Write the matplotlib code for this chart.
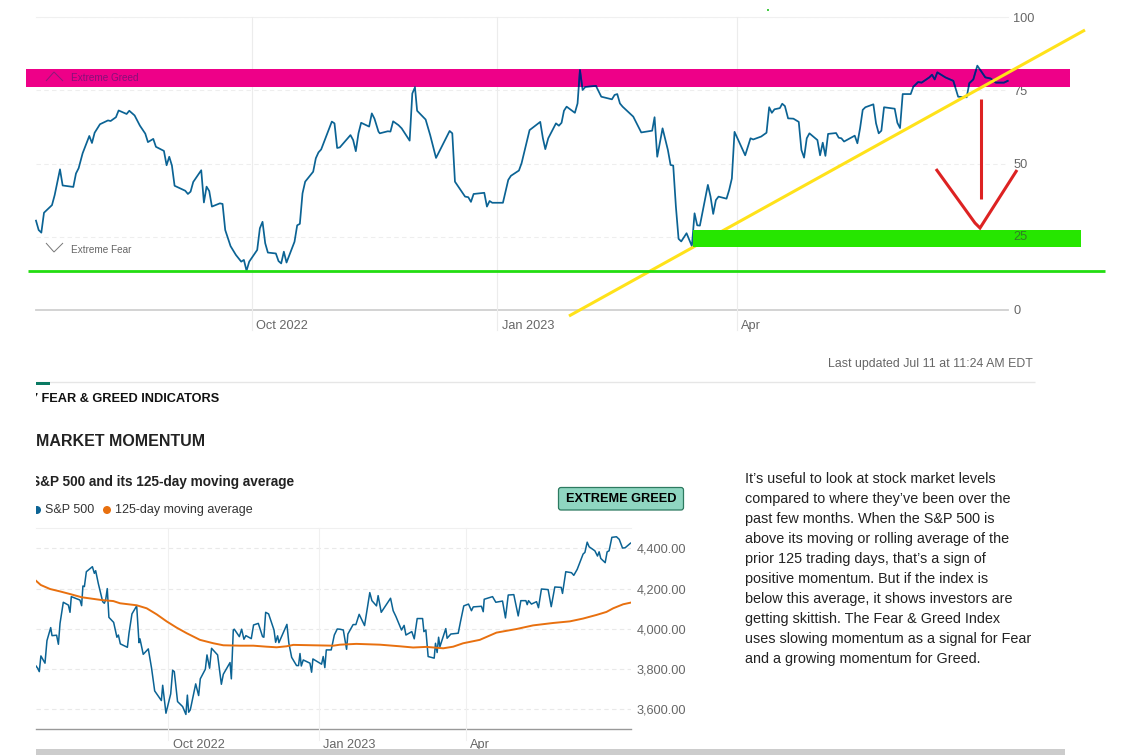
import matplotlib
matplotlib.use("Agg")
import matplotlib.pyplot as plt
from matplotlib.lines import Line2D
from matplotlib.patches import Rectangle, FancyBboxPatch, Circle
from matplotlib.transforms import Affine2D

plt.rcParams['font.family'] = ['Liberation Sans', 'DejaVu Sans']

# x values are days since Jul 12 2022
month_days = [81, 173, 263]
month_labels = ['Oct 2022', 'Jan 2023', 'Apr']

fg_days = [0, 1, 2, 3, 6, 7, 9, 10, 14, 15, 16, 17.5, 20, 21, 22, 24, 27, 28, 30, 31, 34, 35, 37, 39, 41, 42, 44, 45, 48, 49,
           50, 51, 52, 56, 57, 58, 59, 62, 63, 64, 65, 66, 69, 70, 71, 73, 75, 77, 78, 79, 80, 83, 84, 85, 86, 87, 90, 91, 92, 93,
           94, 97, 98, 99, 100, 101, 104, 105, 106, 107, 111, 112, 113, 114, 118, 119, 120, 121, 122, 125, 126, 127, 128.5, 129, 132, 133, 134, 136, 137.2, 140.2,
           141.2, 142.2, 143, 146.2, 147.9, 150.1, 155.2, 156.2, 157.2, 161, 162.2, 163.2, 164.2, 168.2, 169.2, 170.2, 171.2, 175.2, 177.2, 178.2, 181.2, 182.2, 183.7, 185.2, 189.2, 190.2, 191.1, 192.2, 195.1, 196.2,
           197.2, 198.1, 199.1, 202.2, 203.2, 204.1, 205.1, 206.1, 210.1, 212.1, 216.1, 217.1, 218.1, 219.1, 220.1, 224.1, 227.1, 231.2, 232.1, 233.1, 235.1, 237.1, 238.1, 239.1, 240.1, 241.1, 242.1, 244.1, 246.1, 247.1,
           248.1, 249.1, 252.1, 253.1, 254.1, 255.1, 256.1, 259.1, 260.1, 261.1, 262.1, 266.1, 268.1, 269.1, 272.1, 274.1, 275.1, 276.1, 277.1, 279.1, 280, 281, 282.2, 284.2, 286.2, 287.2, 288.2, 289.2, 290.2, 293.2,
           294.2, 295.2, 296.2, 297.2, 300.2, 301.2, 302.2, 303.2, 307.2, 308.2, 309.2, 310.2, 311.2, 314.2, 315.2, 316.2, 317.2, 318.2, 322.2, 323.2, 324.2, 325.2, 328.2, 329.2, 331, 332.3, 335.2, 336.2, 337.2, 338.2,
           341.2, 344.2, 346, 349.2, 350.2, 351.7, 353.2, 356.2, 358.2, 360.2, 363.2, 364.6]
fg_values = [30.5, 27.3, 26.4, 33.2, 35.8, 39.2, 48, 42.5, 42, 46.6, 48.4, 53.5, 59.4, 57, 60.5, 63.4, 64.7, 64.5, 65.8, 68.1, 66.9, 68, 66.4, 62.9, 60.2, 57.3, 58.4, 55.7, 54.3, 49.4,
             52.3, 49.3, 42.4, 40.7, 39.6, 40.4, 43.7, 47.7, 36.7, 42.1, 40.6, 35.3, 36.4, 36.2, 27.3, 21.8, 18.8, 16.5, 17.1, 13.4, 16.5, 20.5, 27.9, 30.1, 22.8, 19.6, 19.3, 16.7, 15.9, 19.9,
             16.2, 23.3, 28.9, 29.4, 39.8, 43.8, 47.2, 51.8, 53.8, 54.8, 64.3, 63.7, 55.3, 55.5, 59.7, 58, 54.2, 60.3, 63.9, 62.6, 67.1, 65.3, 60.9, 60.3, 61, 60.9, 64.4, 63.1, 62, 57.8,
             73.9, 76, 68, 65, 59.7, 51.9, 61.1, 60.3, 43.8, 38.7, 38.5, 36.9, 39.6, 40, 35.3, 37.2, 36.6, 36.6, 44.4, 45.8, 47.6, 50.1, 55.7, 61.4, 64.2, 58.6, 54.9, 58.6, 63.7, 62.9,
             63.9, 68, 69.4, 67.3, 70.5, 81.9, 75.1, 76.1, 76.5, 72.8, 71.9, 73.4, 73.7, 70.5, 69.4, 66, 60.6, 61.2, 65.8, 52.3, 62, 54.6, 49.5, 49.3, 35.3, 24.3, 23.4, 26.2, 21.8, 33,
             28.9, 28.8, 42.7, 38.7, 32.8, 37.5, 38.7, 38, 41, 44.9, 60.8, 52.8, 58.6, 58.2, 59.2, 60.5, 69.2, 67.3, 68.5, 68.9, 70.4, 69.6, 65.4, 65.3, 64.2, 54.6, 52, 58.6, 60.3, 58,
             52.8, 57.1, 52.6, 60.1, 60.4, 58.8, 58.6, 57.5, 59.5, 56.9, 62, 68.3, 69.2, 70.2, 63.7, 60.3, 61.2, 69.2, 68.7, 63.9, 62.1, 73.7, 73.7, 76.2, 77.8, 77.6, 79.4, 80.3, 78.7, 81.1,
             79.4, 78.2, 72.8, 72.6, 77.4, 78.7, 83.4, 79.4, 79, 77.6, 77.6, 78.2]
fg_ticks = [0, 25, 50, 75, 100]

sp_days = [0, 1, 2, 3, 5.5, 6.7, 9, 9.8, 12.6, 13.7, 14.7, 16.7, 19.8, 20.8, 21.6, 26.9, 27.9, 28.7, 29.6, 30.8, 34.5, 35.7, 36.5, 38.1, 40.8, 41.8, 42.6, 43.6, 44.6, 47.5,
           49.5, 50.4, 51.6, 55.9, 56.9, 58.7, 61.6, 63, 63.6, 65.6, 68.7, 70.7, 72.6, 76.7, 77.5, 79.5, 82.4, 83.6, 84.6, 86.6, 89.7, 91.7, 92.6, 93.4, 94.4, 97.7, 99.5, 100.5, 103.6, 104.6,
           106.2, 107.4, 111.1, 113.4, 114.6, 118.7, 119.5, 120.7, 121.3, 124.4, 125.8, 127.2, 128.4, 131.7, 133.1, 136, 138.6, 139.4, 140.5, 142.3, 145.6, 146.6, 147.8, 148.6, 153.5, 154.7, 156.4, 159.4, 160.6, 161.5,
           162.3, 163.5, 167.6, 168.6, 169.4, 174.7, 175.7, 176.7, 177.6, 180.6, 182.5, 184.3, 185.9, 188, 190, 190.8, 194, 195.7, 197.7, 201, 204.2, 205.5, 208.3, 209.3, 211.2, 216.9, 218.5, 220.2, 223.6, 225.2,
           226.3, 229.9, 231.4, 233.2, 236.5, 237.3, 238.5, 239.9, 243.6, 244.4, 245.4, 246.3, 247.1, 250.7, 251.5, 253.8, 258.3, 259.7, 261.7, 264.6, 266.4, 267.5, 272.5, 273.6, 274.2, 279.3, 281.3, 285.4, 287.2, 288.9,
           292.3, 295, 296.6, 299.7, 300.5, 301.3, 303.1, 306.2, 307.4, 309.2, 313.3, 315.2, 317.4, 321.3, 322.1, 324.1, 327.6, 329, 331.1, 334.7, 335.8, 337.2, 338.4, 341.9, 343.5, 344.5, 345.5, 348.2, 349.4, 350.6,
           352.3, 355.1, 356.8, 358.8, 360.4, 363.7]
sp_values = [3815, 3804, 3787, 3865, 3829, 3941, 4006, 3966, 3968, 3923, 4027, 4132, 4118, 4082, 4160, 4143, 4115, 4213, 4210, 4284, 4309, 4276, 4289, 4226, 4135, 4127, 4143, 4200, 4057, 4032,
             3958, 3969, 3925, 3908, 3978, 4074, 4114, 3931, 3950, 3873, 3900, 3804, 3691, 3643, 3719, 3580, 3676, 3794, 3787, 3638, 3613, 3574, 3670, 3585, 3597, 3726, 3668, 3751, 3799, 3870,
             3804, 3903, 3870, 3724, 3774, 3832, 3751, 3994, 3998, 3961, 3998, 3948, 3966, 3951, 4019, 4027, 3961, 3958, 4082, 4074, 3994, 3933, 3965, 3931, 4022, 3928, 3858, 3817, 3817, 3877,
             3815, 3845, 3829, 3784, 3850, 3824, 3862, 3807, 3895, 3895, 3969, 3999, 3998, 3994, 3898, 3974, 4021, 4021, 4072, 4016, 4180, 4140, 4114, 4165, 4082, 4152, 4090, 4061, 3994, 4017,
             3969, 3986, 3950, 4051, 4051, 3986, 3994, 3862, 3854, 3928, 3882, 3958, 3911, 4001, 3953, 3974, 3978, 4036, 4114, 4123, 4090, 4109, 4112, 4085, 4147, 4160, 4132, 4138, 4054, 4168,
             4170, 4064, 4140, 4140, 4120, 4140, 4123, 4135, 4105, 4198, 4195, 4110, 4208, 4206, 4176, 4284, 4279, 4266, 4296, 4372, 4380, 4431, 4408, 4388, 4362, 4383, 4350, 4329, 4383, 4388,
             4455, 4458, 4445, 4402, 4403, 4426]

ma_days = [0, 2.9, 8.6, 14.7, 20.8, 27.9, 40.2, 47.3, 51.4, 61.6, 67.7, 73.8, 79.9, 86, 92.2, 100.3, 108.5, 114.6, 124.8, 133, 141.1, 147.2, 153.3, 157.4, 169.6, 181.9, 186,
           196, 210.4, 222.6, 230.7, 238.9, 249.1, 255.2, 261.3, 271.5, 281.7, 294, 304.1, 316.4, 326.6, 334.7, 342.9, 349, 353.1, 359.2, 363.7]
ma_values = [4239, 4218, 4198, 4186, 4173, 4157, 4143, 4138, 4127, 4117, 4102, 4072, 4037, 4006, 3978, 3945, 3928, 3918, 3916, 3916, 3911, 3908, 3913, 3920, 3918, 3916, 3921,
             3925, 3921, 3913, 3907, 3910, 3903, 3911, 3928, 3945, 3981, 3999, 4017, 4029, 4037, 4051, 4069, 4084, 4102, 4122, 4130]
sp_ticks = [3600, 3800, 4000, 4200, 4400]

blurb = [
    "It\u2019s useful to look at stock market levels",
    "compared to where they\u2019ve been over the",
    "past few months. When the S&P 500 is",
    "above its moving or rolling average of the",
    "prior 125 trading days, that\u2019s a sign of",
    "positive momentum. But if the index is",
    "below this average, it shows investors are",
    "getting skittish. The Fear & Greed Index",
    "uses slowing momentum as a signal for Fear",
    "and a growing momentum for Greed.",
]

W, H = 1134, 755
BLUE = '#0b6394'
ORANGE = '#e8700f'
GREY = '#666666'

fig = plt.figure(figsize=(W / 100, H / 100), dpi=100, facecolor='white')
# screenshot pixels, y going down, for everything that is not chart data
px = Affine2D().scale(1 / W, -1 / H).translate(0, 1) + fig.transFigure


def add_axes_px(left, top, right, bottom):
    a = fig.add_axes([left / W, 1 - bottom / H, (right - left) / W, (bottom - top) / H], zorder=2)
    a.patch.set_alpha(0)
    for s in a.spines.values():
        s.set_visible(False)
    return a


def box(x0, y0, x1, y1, color, z):
    fig.add_artist(Rectangle((x0, y0), x1 - x0, y1 - y0, transform=px, facecolor=color, edgecolor='none', zorder=z))


def ink(xs, ys, color, lw, z=5):
    fig.add_artist(Line2D(xs, ys, transform=px, color=color, lw=lw, zorder=z, solid_capstyle='butt', solid_joinstyle='miter'))


def label(x, y, s, size, color='#222222', z=6, **kw):
    fig.text(x, y + 1, s, transform=px, fontsize=size, color=color, va='center', zorder=z, **kw)


def style_chart(a, ticks, fmt, tick_size, grid_color, vgrid_color, base_color, base_lw, vline_min):
    a.set_yticks(ticks)
    a.set_yticklabels([fmt(t) for t in ticks], fontsize=tick_size, color=GREY)
    a.yaxis.tick_right()
    a.set_xticks([])
    a.tick_params(axis='y', length=0, pad=4)
    for t in ticks:
        if t == ticks[0] and ticks[0] == 0:
            continue
        a.axhline(t, color=grid_color, lw=0.8, ls=(0, (4, 3)), zorder=1)
    a.axhline(a.get_ylim()[1], color='#f0f0f0', lw=0.8, zorder=1, clip_on=False)
    a.axhline(a.get_ylim()[0], color=base_color, lw=base_lw, zorder=1, clip_on=False)
    for d, name in zip(month_days, month_labels):
        a.axvline(d, ymin=vline_min, ymax=1, color=vgrid_color, lw=0.8, zorder=1, clip_on=False)
        a.annotate(name, (d, 0), xycoords=('data', 'axes fraction'), xytext=(3.2, -11.6), textcoords='offset points',
                   fontsize=tick_size, color=GREY, ha='left', va='center')


# ---- top chart
ax = add_axes_px(36, 17, 1007.7, 310)
ax.set_xlim(0, 364.6)
ax.set_ylim(0, 100)
style_chart(ax, fg_ticks, lambda t: str(t), 9.2, '#eeeeee', '#ececec', '#d0d0d0', 1.3, -0.068)
# band sits over the grid but under the line
ax.add_patch(Rectangle((26, 69), 1044, 18, transform=px, facecolor='#ee0088', edgecolor='none', zorder=2, clip_on=False))
ax.plot(fg_days, fg_values, color=BLUE, lw=1.25, zorder=3, clip_on=False)
# the band multiplies with the line in the screenshot, so it goes navy in there
dark, = ax.plot(fg_days, fg_values, color='#0a1a80', lw=1.25, zorder=4, clip_on=False)
dark.set_clip_on(True)
dark.set_clip_path(Rectangle((26, 69), 1044, 18, transform=px))

label(71, 77, 'Extreme Greed', 7.2, color='#86107a', z=3)
label(71, 249, 'Extreme Fear', 7.2, color=GREY, z=3)
ink([46, 54, 63], [81, 72, 81], '#8a1a7a', 0.7, z=3)
ink([46, 54, 63], [243, 252, 243], '#777777', 0.7, z=3)

# drawn over the chart by hand in the screenshot
ink([28, 1105], [271, 271], '#22dd11', 2)
ink([569, 1085], [316, 30], '#ffe21a', 2.2, z=4)
box(693, 230, 1081, 247, '#26e600', 4.5)
ink([981, 981], [99, 199], '#dd2222', 2.2)
ink([936, 975, 980, 1017], [169, 223, 228, 170], '#dd2222', 2.2)
box(767, 9, 769, 11, '#44cc44', 5)
# the 25 tick shows through the green bar
label(1013, 236, '25', 9.2, color='#2f7f25')

label(1033, 363, 'Last updated Jul 11 at 11:24 AM EDT', 8.9, color=GREY, ha='right')
ink([36, 1035], [381.5, 381.5], '#e6e6e6', 1, z=1)
box(36, 382, 50, 385, '#0a7a63', 2)

# ---- section headings, cut off at the left edge of the page
label(31, 398, '7 FEAR & GREED INDICATORS', 9.2, color='#111111', fontweight='bold')
label(36, 440, 'MARKET MOMENTUM', 11.5, color='#222222', fontweight='bold')
label(31, 481, 'S&P 500 and its 125-day moving average', 9.8, color='#222222', fontweight='bold')
fig.add_artist(Circle((37, 510), 4, transform=px, facecolor=BLUE, edgecolor='none', zorder=6))
label(45, 509, 'S&P 500', 9, color='#333333')
fig.add_artist(Circle((107, 510), 4, transform=px, facecolor=ORANGE, edgecolor='none', zorder=6))
label(115, 509, '125-day moving average', 9, color='#333333')
box(0, 385, 36, 520, 'white', 7)

fig.add_artist(FancyBboxPatch((560, 489), 122, 19.5, boxstyle='round,pad=1.5,rounding_size=2.5', transform=px,
                              facecolor='#8fd6c1', edgecolor='#2d7a60', lw=0.9, zorder=5))
label(621, 498, 'EXTREME GREED', 9.2, color='#000000', ha='center', fontweight='bold')

# ---- bottom chart
ax2 = add_axes_px(36, 528.3, 631, 729.3)
ax2.set_xlim(0, 364)
ax2.set_ylim(3500, 4500)
style_chart(ax2, sp_ticks, lambda t: f'{t:,.2f}', 9.2, '#e9e9e9', '#f0f0f0', '#999999', 1, -0.055)
ax2.plot(sp_days, sp_values, color=BLUE, lw=1.1, zorder=3)
ax2.plot(ma_days, ma_values, color=ORANGE, lw=1.4, zorder=4)

box(36, 749, 1065, 755, '#cccccc', 6)

for i, line in enumerate(blurb):
    label(745, 478 + i * 20, line, 10.4, color='#222222')

fig.savefig('out.png', dpi=100)
